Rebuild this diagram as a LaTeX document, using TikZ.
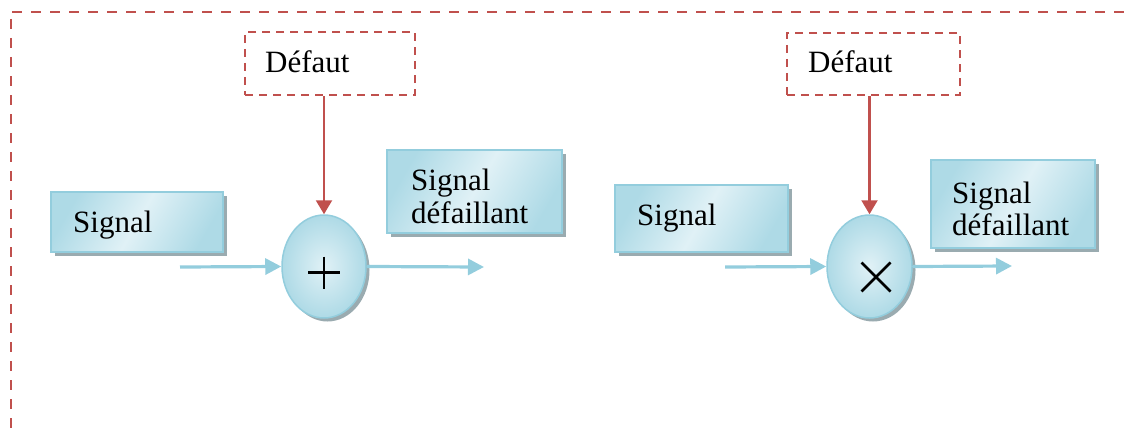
\documentclass[tikz,border=0pt]{standalone}
\usepackage{fontspec}
\setmainfont{Liberation Serif}
\usetikzlibrary{arrows.meta,shadows,shapes.geometric}
\definecolor{frame}{HTML}{C0504D}
\definecolor{aquaedge}{HTML}{93CDDD}
\definecolor{aqualight}{HTML}{E0F1F6}
\definecolor{aquamid}{HTML}{AEDAE6}
\definecolor{shadowgray}{HTML}{9AABB0}

\begin{document}
\begin{tikzpicture}[x=1pt,y=-1pt,
  label/.style={inner sep=0pt, anchor=base west, font=\fontsize{31}{33}\selectfont},
  shade/.style={drop shadow={shadow xshift=3.5pt, shadow yshift=-3.5pt, fill=shadowgray, opacity=1}},
  box/.style={rectangle, draw=aquaedge, line width=1.5pt, inner sep=0pt,
    shade, left color=aquamid, right color=aquamid, middle color=aqualight, shading angle=60},
  op/.style={ellipse, draw=aquaedge, line width=1.5pt, inner sep=0pt,
    shade, inner color=aqualight, outer color=aquamid},
  fault/.style={rectangle, draw=frame, line width=2.5pt, dash pattern=on 8pt off 6pt, inner sep=0pt, fill=white},
  flow/.style={draw=aquaedge, line width=3.2pt, -{Triangle[length=16pt,width=16pt]}},
  inject/.style={draw=frame, line width=2.2pt, -{Triangle[length=14pt,width=16pt]}},
  sign/.style={line width=2.6pt, black}]
\useasboundingbox (0,0) rectangle (1129,428);

% outer dashed frame
\draw[frame, line width=2.6pt, dash pattern=on 10pt off 9pt] (12,12) -- (1129,12);
\draw[frame, line width=2.6pt, dash pattern=on 10pt off 9pt] (11,19) -- (11,428);

% additive fault
\node[box, minimum width=172pt, minimum height=60pt] (sig1) at (137,222) {};
\node[box, minimum width=175pt, minimum height=83pt] (out1) at (474.5,191.5) {};
\node[fault, minimum width=170pt, minimum height=63pt] (def1) at (330,63.5) {};
\node[op, minimum width=84pt, minimum height=103pt] (e1) at (324,266.5) {};
\node[label] (t1) at (73,232) {Signal};
\node[label] (t2) at (411,190) {Signal};
\node[label] (t3) at (411,223) {défaillant};
\node[label] (t4) at (265,72) {Défaut};
\draw[sign, shift={(e1.center)}] (-16,6) -- (16,6) (0,-10) -- (0,22);
\coordinate (in1) at (180,267);
\coordinate (o1) at (484,267);
\draw[flow] (in1) -- (e1.west);
\draw[flow] (e1.east) -- (o1);
\draw[inject] (def1.south -| e1.north) -- (e1.north);

% multiplicative fault
\node[box, minimum width=173pt, minimum height=67pt] (sig2) at (701.5,218.5) {};
\node[box, minimum width=164pt, minimum height=88pt] (out2) at (1013,204) {};
\node[fault, minimum width=173pt, minimum height=62pt] (def2) at (873.5,64) {};
\node[op, minimum width=85pt, minimum height=103pt] (e2) at (869.5,266.5) {};
\node[label] (t5) at (637,225) {Signal};
\node[label] (t6) at (952,203) {Signal};
\node[label] (t7) at (952,235) {défaillant};
\node[label] (t8) at (808,72) {Défaut};
\draw[sign, shift={(e2.center)}] (-8,-4) -- (21,25) (-8,25) -- (21,-4);
\coordinate (in2) at (725,267);
\coordinate (o2) at (1012,266);
\draw[flow] (in2) -- (e2.west);
\draw[flow] (e2.east) -- (o2);
\draw[inject] (def2.south -| e2.north) -- (e2.north);
\end{tikzpicture}
\end{document}
